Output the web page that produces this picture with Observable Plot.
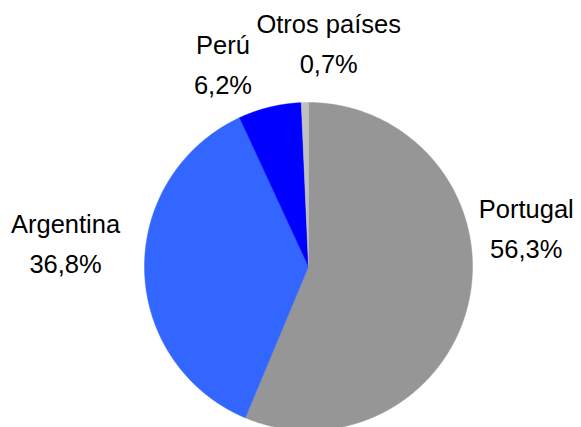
<!DOCTYPE html>
<html><head><meta charset="utf-8">
<script src="https://cdn.jsdelivr.net/npm/d3@7"></script>
<script src="https://cdn.jsdelivr.net/npm/@observablehq/plot@0.6"></script>
<style>html,body{margin:0;padding:0;background:#fff}</style>
</head><body><div id="chart"></div>
<script>
const countries = ["Portugal", "Argentina", "Perú", "Otros países"];
const shares = [56.3, 36.8, 6.2, 0.7];
const shareLabels = ["56,3%", "36,8%", "6,2%", "0,7%"];
const colors = ["#969696", "#3366FF", "#0000FF", "#C0C0C0"];
// label nudges (layout only, px) relative to slice mid-angle anchor
const labelNudgeX = [4, -25, -34, 25];
const labelNudgeY = [84, 30, -7, 8];

const W = 581, H = 427, cx = 308, cy = 266, R = 164, RL = 218;

const arcs = d3.pie().sort(null).value(d => d.share)(
  countries.map((c, i) => ({name: c, share: shares[i], i}))
);

const wedgePts = [];
for (const a of arcs) {
  const n = Math.max(2, Math.ceil((a.endAngle - a.startAngle) / 0.005));
  wedgePts.push({name: a.data.name, x: 0, y: 0});
  for (let k = 0; k <= n; k++) {
    const t = a.startAngle + (a.endAngle - a.startAngle) * k / n;
    wedgePts.push({name: a.data.name, x: R * Math.sin(t), y: R * Math.cos(t)});
  }
  wedgePts.push({name: a.data.name, x: 0, y: 0});
}

const labelData = arcs.map(a => {
  const m = (a.startAngle + a.endAngle) / 2, i = a.data.i;
  return {
    text: a.data.name + "\n" + shareLabels[i],
    x: RL * Math.sin(m) + labelNudgeX[i],
    y: RL * Math.cos(m) + labelNudgeY[i]
  };
});

const chart = Plot.plot({
  width: W, height: H,
  margin: 0,
  style: {background: "#fff", fontFamily: "'Liberation Sans', Arial, sans-serif"},
  x: {domain: [-cx, W - cx], range: [0, W], axis: null},
  y: {domain: [-(H - cy), cy], range: [H, 0], axis: null},
  color: {domain: countries, range: colors},
  marks: [
    Plot.line(wedgePts, {x: "x", y: "y", z: "name", fill: "name", stroke: "name", strokeWidth: 0.5, curve: "linear"}),
    Plot.text(labelData, {x: "x", y: "y", text: "text", fontSize: 25.5, lineHeight: 40/25.5, fill: "#000", fontFamily: "'Liberation Sans', Arial, sans-serif"})
  ]
});
document.getElementById("chart").appendChild(chart);
</script>
</body></html>
